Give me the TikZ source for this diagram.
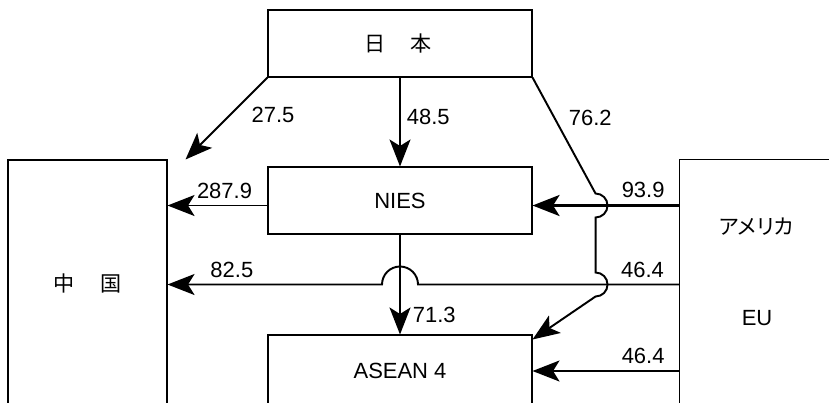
\documentclass[tikz,border=0pt]{standalone}
\usepackage{fontspec}
\setmainfont{Liberation Sans}
\newfontfamily\jpfont{Noto Sans CJK JP}[RawFeature={+palt}]
\usepackage{tikz}
\usetikzlibrary{shapes,arrows.meta}
\usetikzlibrary{positioning}
\usetikzlibrary{calc}
\tikzstyle{line} = [draw, line width=1.1pt, -{Stealth[length=5.4mm,width=4.2mm,inset=1.3mm]}]

\begin{document}
\begin{tikzpicture}[auto, font=\fontsize{12.5}{15}\selectfont,
	box/.style={draw, rectangle, line width=0.6pt, inner sep=0pt,
		minimum width=5.28cm, minimum height=1.34cm},
	jp/.style={font=\fontsize{12}{14}\selectfont\jpfont}]
	\useasboundingbox (0,0) rectangle (16.58,8.04);
	\clip (0,0) rectangle (16.58,8.04);
	%% Regions
	\node [box, jp] at (8,7.17) (JP) {\hspace{-0.08cm}日\hspace{0.48cm}本};
	\node [box] at (8,4.03) (NIES) {NIES};
	\node [box, minimum height=1.44cm] at (8,0.62) (ASEAN) {ASEAN 4};
	\node [box, jp, minimum width=3.18cm, minimum height=4.92cm] at (1.75,2.38) (CN) {中\hspace{0.52cm}国};
	\node [box, anchor=north west, minimum width=3.4cm, minimum height=5cm] at (13.58,4.86) (US) {};
	\node [jp] at (15.13,3.50) (USA) {アメリカ};
	\node at (15.14,1.68) (EU) {EU};
	%% Helper points
	\coordinate (N1) at ([yshift=-0.1cm]NIES.west);
	\coordinate (N2) at ([yshift=-0.1cm]NIES.east);
	\coordinate (X) at ($(NIES.south)!0.5!(ASEAN.north)$);
	\coordinate (J1) at ($(N2)+(1.26,0.24)$);
	\coordinate (CNtip) at ($(CN.north east)+(0.36,0)$);
	\coordinate (Atip) at ($(ASEAN.north east)+(0,-0.1)$);
	%% Flows
	\path [line] (JP.south west) to node [pos=0.46, right=0.3cm] {27.5} (CNtip);
	\path [line] (JP) to node [pos=0.44, right] {48.5} (NIES);
	\path [line] (NIES) to node [pos=0.8, right=0.12cm] {71.3} (ASEAN);
	\path [line] (N1) to node [pos=0.43, above] {287.9} (N1 -| CN.east);
	\path [line, line width=1.7pt] (N2 -| US.west) to node [pos=0.245, above] {93.9} (N2);
	\path [line] (X -| US.west) -- node [pos=0.14, above] {46.4} ($(X)+(0.36,0)$)
		arc [start angle=0, end angle=180, radius=0.36] -- node [pos=0.7, above] {82.5} (X -| CN.east);
	\path [line] (ASEAN.east -| US.west) to node [pos=0.245, above] {46.4} (ASEAN.east);
	\path [line] (JP.south east) -- node [pos=0.35, right=0.15cm] {76.2} (J1)
		arc [start angle=90, end angle=-90, radius=0.24] -- ($(X -| J1)+(0,0.24)$)
		arc [start angle=90, end angle=-90, radius=0.24] -- (Atip);
\end{tikzpicture}
\end{document}
